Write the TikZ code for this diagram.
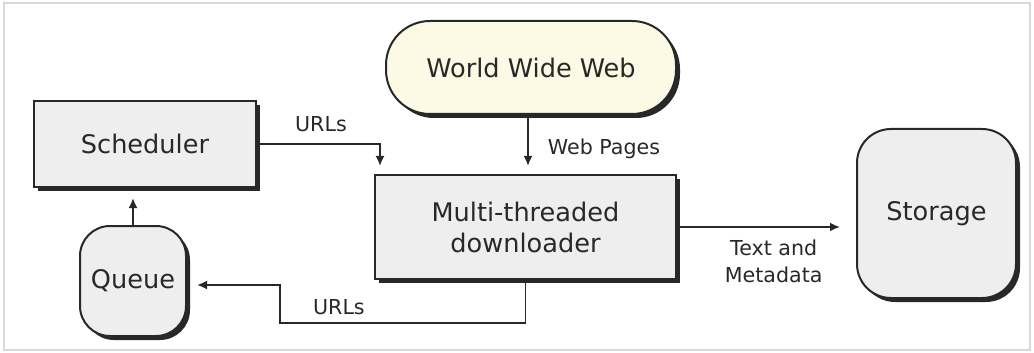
\documentclass[tikz,border=0pt]{standalone}
\usepackage{fontspec}
\setmainfont{DejaVu Sans}
\usepackage{xcolor}
\usepackage{tikz}
\usetikzlibrary{shadows}
\usetikzlibrary{arrows.meta}
\usetikzlibrary{calc}
\definecolor{webfill}{RGB}{252,250,228}
\definecolor{boxfill}{RGB}{238,238,238}
\definecolor{inkgray}{RGB}{40,40,40}

\begin{document}
\begin{tikzpicture}[x=0.5pt,y=-0.5pt,
        block/.style={draw=inkgray,line width=1pt,fill=boxfill,text=inkgray,align=center,
            font=\fontsize{12.8}{15.5}\selectfont,inner sep=0pt,
            drop shadow={shadow xshift=2pt,shadow yshift=-2pt,fill=inkgray,opacity=1}},
        flow/.style={draw=inkgray,line width=0.9pt,-{Latex[length=5pt,width=4.5pt]},shorten >=4pt},
        lbl/.style={text=inkgray,font=\fontsize{10.3}{13.5}\selectfont,align=center,inner sep=0pt}]
        \useasboundingbox (0,0) rectangle (1034,353);
        \draw[black!15,line width=0.8pt] (4,3) rectangle (1030,350);

        \node[block,fill=webfill,minimum width=145pt,minimum height=46.5pt,rounded corners=22pt] (www) at (531,67.5) {World Wide Web};
        \node[block,minimum width=111pt,minimum height=43pt] (sched) at (145,144) {Scheduler};
        \node[block,minimum width=150.5pt,minimum height=52pt] (dl) at (525.5,227) {Multi-threaded\\downloader};
        \node[block,minimum width=79.5pt,minimum height=84.5pt,rounded corners=17pt] (store) at (936.5,213.5) {Storage};
        \node[block,minimum width=53pt,minimum height=55pt,rounded corners=15pt] (qu) at (133,281) {Queue};
        \coordinate (turn) at (280,323);

        \draw[flow] (sched.east) -| node[lbl,pos=0.26,above=5.5pt] (urlsin) {URLs} ([xshift=3pt]dl.north west);
        \draw[flow] ([xshift=-1.5pt]www.south) -- node[lbl,pos=0.57,right=9.5pt] (pages) {Web Pages} ([xshift=-1.5pt]www.south |- dl.north);
        \draw[flow,shorten >=8pt] (dl.east) -- node[lbl,pos=0.54,below=6pt] (meta) {Text and\\Metadata} (dl.east -| store.west);
        \draw[flow,shorten >=5pt] (dl.south) |- node[lbl,pos=0.88,above=3.5pt] (urlsout) {URLs} (turn) |- ([yshift=-2pt]qu.east);
        \draw[flow,shorten >=5pt] (qu.north) -- (qu.north |- sched.south);
    \end{tikzpicture}
\end{document}
